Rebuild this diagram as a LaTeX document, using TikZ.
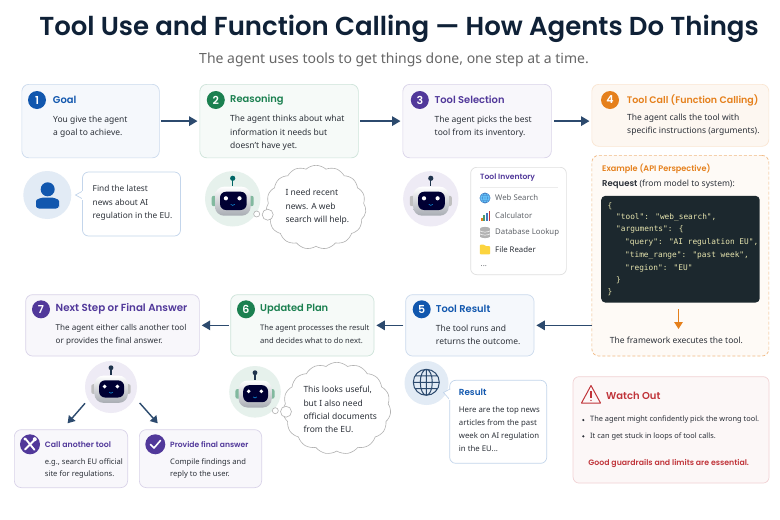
\documentclass[tikz,border=0pt]{standalone}
\usepackage{fontspec}
\setmainfont{Noto Sans}[BoldFont={Poppins SemiBold}]
\newfontfamily\monof{DejaVu Sans Mono}
\usetikzlibrary{arrows.meta,shapes.symbols,shapes.geometric,calc}
\definecolor{navy}{HTML}{2C4A6E}
\definecolor{inkc}{HTML}{2B3038}
\definecolor{blueA}{HTML}{1157AE}
\definecolor{greenA}{HTML}{1B8050}
\definecolor{purpA}{HTML}{51389A}
\definecolor{orangeA}{HTML}{E5801C}
\definecolor{redA}{HTML}{C0343A}
\definecolor{silverA}{HTML}{A8ACB3}
\definecolor{codetext}{HTML}{E6E4AE}
\definecolor{codebg}{HTML}{1C282E}
\definecolor{titlec}{HTML}{0F2137}
\tikzset{
  x=1pt,y=-1pt,
  card/.style={draw=#1!22!white,fill=#1!4!white,rounded corners=7pt,line width=.7pt,anchor=north west,inner sep=0pt},
  numdisc/.style={circle,fill=#1,text=white,minimum size=18pt,inner sep=0pt,font=\fontsize{11}{12}\selectfont\bfseries},
  head/.style={anchor=west,inner sep=0pt,text=#1,font=\fontsize{9.9}{12}\selectfont\bfseries},
  body/.style={anchor=west,inner sep=0pt,align=left,text=inkc,font=\fontsize{8.5}{13.3}\selectfont},
  flowarrow/.style={draw=navy,line width=1.6pt,-{Triangle[length=8.5pt,width=9.5pt]}},
  thought/.style={cloud,cloud puffs=15,cloud puff arc=85,aspect=1.35,draw=gray!60,fill=white,line width=.6pt,inner sep=0pt},
  bubble/.style={circle,draw=gray!60,fill=white,line width=.6pt,inner sep=0pt},
  codeline/.style={anchor=west,inner sep=0pt,text=codetext,font=\fontsize{7.8}{10}\selectfont\monof},
  toolrow/.style={anchor=west,inner sep=0pt,text=inkc!75!white,font=\fontsize{7.8}{10}\selectfont},
}
% robot with a coloured disc behind it: name, x, y, radius, disc, ears, antenna
\newcommand\robotface[7]{%
  \node[circle,fill=#5,minimum size=#4*2pt,inner sep=0pt] (#1) at (#2,#3) {};
  \begin{scope}[shift={(#2,#3)},scale=#4/27.7]
    \fill[#6,rounded corners=2pt] (-21,-3) rectangle (-15,7.4);
    \fill[#6,rounded corners=2pt] (15,-3) rectangle (21,7.4);
    \draw[#7,line width=1.1pt] (0,-13) -- (0,-20);
    \fill[#7] (0,-20.5) circle (2.6);
    \shade[top color=white,bottom color=silverA,rounded corners=9pt] (-17.7,-12.1) rectangle (18,16.9);
    \fill[fill=black!80!blue,rounded corners=6pt] (-12.7,-7.1) rectangle (14,11.2);
    \fill[white] (-6.8,-0.5) circle (2.1) (6.8,-0.5) circle (2.1);
    \draw[cyan!70!blue,line width=.6pt] (-2,5.5) .. controls (-1,7) and (1,7) .. (2,5.5);
  \end{scope}}
\begin{document}
\begin{tikzpicture}
\useasboundingbox (0,0) rectangle (780,520);
\fill[white] (0,0) rectangle (780,520);

% heading
\node[inner sep=0pt,text=titlec,font=\fontsize{26}{30}\selectfont\bfseries] (title) at (399,29) {Tool Use and Function Calling — How Agents Do Things};
\node[inner sep=0pt,text=black!60!white,font=\fontsize{14}{15}\selectfont] (subtitle) at (394,60) {The agent uses tools to get things done, one step at a time.};

% step cards, top row
\node[card=blueA,minimum width=137.5pt,minimum height=73.5pt] (c1) at (21.5,84) {};
\node[card=greenA,minimum width=158.5pt,minimum height=73.5pt] (c2) at (199.5,84) {};
\node[card=purpA,minimum width=148.5pt,minimum height=73.5pt] (c3) at (402.5,84) {};
\node[card=orangeA,minimum width=177pt,minimum height=62pt,fill=orangeA!6!white,draw=orangeA!20!white] (c4) at (591.5,84) {};
\node[numdisc=blueA] (n1) at (37,100) {1};
\node[numdisc=greenA] (n2) at (215.8,100) {2};
\node[numdisc=purpA] (n3) at (419.8,100) {3};
\node[numdisc=orangeA] (n4) at (610,100) {4};
\node[head=blueA] (h1) at (52.7,100) {Goal};
\node[head=greenA] (h2) at (230,100) {Reasoning};
\node[head=purpA] (h3) at (434.5,100) {Tool Selection};
\node[head=orangeA,font=\fontsize{9.5}{12}\selectfont\bfseries] (h4) at (626.7,100) {Tool Call (Function Calling)};
\node[body] (b1) at (53,126.5) {You give the agent\\a goal to achieve.};
\node[body] (b2) at (230,133) {The agent thinks about what\\information it needs but\\doesn't have yet.};
\node[body] (b3) at (434.5,126.5) {The agent picks the best\\tool from its inventory.};
\node[body] (b4) at (627,125) {The agent calls the tool with\\specific instructions (arguments).};
\draw[flowarrow,shorten <=1.5pt,shorten >=2pt] (c1.east) -- (c2.west);
\draw[flowarrow,shorten <=1.5pt,shorten >=2pt] (c2.east) -- (c3.west);
\draw[flowarrow,shorten <=2.5pt,shorten >=2pt] (c3.east) -- (c3.east -| c4.west);

% user and request
\node[circle,fill=blueA!12!white,minimum size=48pt,inner sep=0pt] (user) at (47.3,195) {};
\fill[blueA] (47.7,189.3) circle (7);
\fill[blueA,rounded corners=3pt] (36,208.5) -- (36,204) .. controls (36,199) and (42,197.5) .. (47.7,197.5) .. controls (53,197.5) and (59,199) .. (59,204) -- (59,208.5) -- cycle;
\draw[draw=blueA!25!white,fill=white,line width=.7pt,rounded corners=6pt] (82.5,172) rectangle (180.5,236);
\draw[draw=blueA!25!white,fill=white,line width=.7pt] (82.8,191) -- (75.5,195) -- (82.8,199);
\fill[white] (82,190.5) rectangle (83.6,199.5);
\node[body,font=\fontsize{8.3}{13.5}\selectfont] (say1) at (92.5,203) {Find the latest\\news about AI\\regulation in the EU.};

% thinking robot
\robotface{r2}{232.7}{198.8}{27.7}{greenA!11!white}{greenA!55!white}{teal!80!black}
\node[thought,minimum width=100pt,minimum height=84pt] (cl2) at (316,207.3) {};
\node[bubble,minimum size=6pt] (d2a) at (256.7,214) {};
\node[bubble,minimum size=11pt] (d2b) at (267.7,214.7) {};
\node[body] (say2) at (285.3,207) {I need recent\\news. A web\\search will help.};

% selecting robot and its inventory
\robotface{r3}{430.8}{198.8}{27.7}{purpA!10!white}{gray!50!white}{navy!70!black}
\node[anchor=north west,draw=gray!25!white,fill=white,rounded corners=6pt,line width=.7pt,minimum width=95.7pt,minimum height=107.3pt,inner sep=0pt] (inv) at (470.3,167) {};
\node[head=purpA,font=\fontsize{7.6}{10}\selectfont\bfseries] (invt) at (480,178) {Tool Inventory};
\draw[gray!15!white,line width=.6pt] (480,187) -- (558,187);
\begin{scope}[shift={(485,198)}]
  \fill[blue!35!cyan!60!white] (0,0) circle (5.2);
  \draw[blueA!80!white,line width=.4pt] (0,0) circle (5.2) (-5.2,0) -- (5.2,0) (0,-5.2) -- (0,5.2) (0,0) ellipse (2.4 and 5.2) (-4.6,-2.5) -- (4.6,-2.5) (-4.6,2.5) -- (4.6,2.5);
\end{scope}
\fill[orangeA] (480.5,217.5) rectangle (482.5,220.5);
\fill[greenA!80!white] (483.2,214.5) rectangle (485.2,220.5);
\fill[blueA!80!white] (486,212.5) rectangle (488,220.5);
\fill[redA] (488.8,210.5) rectangle (490,220.5);
\begin{scope}[shift={(485,232.5)}]
  \fill[gray!60!white] (-5,-4) rectangle (5,4);
  \fill[gray!60!white] (0,-4) ellipse (5 and 1.6) (0,4) ellipse (5 and 1.6);
  \draw[white,line width=.5pt] (-5,-1.6) .. controls (-2,0) and (2,0) .. (5,-1.6) (-5,1.4) .. controls (-2,3) and (2,3) .. (5,1.4);
\end{scope}
\fill[yellow!60!orange!75!white,rounded corners=1pt] (479.8,244.5) -- (484,244.5) -- (485.2,246) -- (490.2,246) -- (490.2,254.3) -- (479.8,254.3) -- cycle;
\node[toolrow] (t1) at (495,198) {Web Search};
\node[toolrow] (t2) at (495,215.3) {Calculator};
\node[toolrow] (t3) at (495,232.5) {Database Lookup};
\node[toolrow,text=inkc] (t4) at (495,249.5) {File Reader};
\node[toolrow] (t5) at (480.5,266) {...};

% API example panel
\node[anchor=north west,draw=orangeA!55!white,fill=orangeA!4!white,densely dashed,rounded corners=7pt,line width=.7pt,minimum width=177pt,minimum height=200.7pt,inner sep=0pt] (ex) at (591.5,155) {};
\node[head=orangeA,font=\fontsize{8.1}{10}\selectfont\bfseries] (ext) at (602,168.5) {Example (API Perspective)};
\node[body] (exr) at (602,184) {\textbf{Request} (from model to system):};
\node[anchor=north west,fill=codebg,rounded corners=4pt,minimum width=158.5pt,minimum height=106.6pt,inner sep=0pt] (code) at (601,195.7) {};
\node[codeline] (l1) at (607.3,205.7) {\{};
\node[codeline] (l2) at (616,217) {"tool": "web\_search",};
\node[codeline] (l3) at (616,229.7) {"arguments": \{};
\node[codeline] (l4) at (625,242.3) {"query": "AI regulation EU",};
\node[codeline] (l5) at (625,255.3) {"time\_range": "past week",};
\node[codeline] (l6) at (625,268) {"region": "EU"};
\node[codeline] (l7) at (616,280) {\}};
\node[codeline] (l8) at (607.3,291.7) {\}};
\node[body,anchor=center] (exf) at (676.5,340.5) {The framework executes the tool.};
\draw[draw=orangeA,line width=1.3pt,-{Triangle[length=7pt,width=8.5pt]}] (code.south -| exf.north) ++(2,6.5) coordinate (exs) -- (exs |- 0,329);

% step cards, lower row
\node[card=blueA,minimum width=128.4pt,minimum height=61.4pt] (c5) at (405.3,294.3) {};
\node[card=greenA,minimum width=143.4pt,minimum height=61.4pt] (c6) at (230.3,294.3) {};
\node[card=purpA,minimum width=173.7pt,minimum height=61.4pt] (c7) at (25.3,294.3) {};
\node[numdisc=blueA] (n5) at (421.7,309.3) {5};
\node[numdisc=greenA] (n6) at (246,309.3) {6};
\node[numdisc=purpA] (n7) at (41,309.3) {7};
\node[head=blueA] (h5) at (435.7,309.3) {Tool Result};
\node[head=greenA] (h6) at (260,309.3) {Updated Plan};
\node[head=purpA,font=\fontsize{10.3}{12}\selectfont\bfseries] (h7) at (55.5,309.3) {Next Step or Final Answer};
\node[body] (b5) at (435.7,335) {The tool runs and\\returns the outcome.};
\node[body,font=\fontsize{7.6}{13}\selectfont] (b6) at (260,334.5) {The agent processes the result\\and decides what to do next.};
\node[body,font=\fontsize{8.1}{13.3}\selectfont] (b7) at (55.5,335) {The agent either calls another tool\\or provides the final answer.};
\draw[flowarrow,shorten >=2pt] (ex.west |- c5.east) -- (c5.east);
\draw[flowarrow,shorten <=2pt,shorten >=2pt] (c5.west) -- (c6.east);
\draw[flowarrow,shorten <=1.5pt,shorten >=2pt] (c6.west) -- (c7.east);

% tool output
\node[circle,fill=blueA!12!white,minimum size=44pt,inner sep=0pt] (gl) at (426.5,383) {};
\begin{scope}[shift={(426.3,382.3)}]
  \draw[navy,line width=1pt] (0,0) circle (13) (0,-13) -- (0,13) (0,0) ellipse (6 and 13) (-13,0) -- (13,0) (-11.3,-6.4) -- (11.3,-6.4) (-11.3,6.4) -- (11.3,6.4);
\end{scope}
\draw[draw=blueA!25!white,fill=white,line width=.7pt,rounded corners=6pt] (449.7,380.3) rectangle (546.7,463.3);
\draw[draw=blueA!25!white,fill=white,line width=.7pt] (450,389) -- (443.5,392.5) -- (450,400);
\fill[white] (449.2,389.5) rectangle (451,399.5);
\node[head=blueA,font=\fontsize{8.8}{10}\selectfont\bfseries] (rt) at (458.7,392.7) {Result};
\node[body,font=\fontsize{7.8}{13}\selectfont] (rb) at (458.7,428.7) {Here are the top news\\articles from the past\\week on AI regulation\\in the EU...};

% replanning robot
\robotface{r6}{255}{391.8}{25.8}{greenA!11!white}{greenA!55!white}{navy!70!black}
\node[thought,minimum width=108pt,minimum height=92pt] (cl6) at (336.8,408.3) {};
\node[bubble,minimum size=6pt] (d6a) at (275.3,410.7) {};
\node[bubble,minimum size=11pt] (d6b) at (286,411.7) {};
\node[body] (say6) at (303.3,409.7) {This looks useful,\\but I also need\\official documents\\from the EU.};

% the two possible next moves
\robotface{r7}{111}{387}{26}{purpA!10!white}{gray!50!white}{navy!70!black}
\node[card=purpA,minimum width=113.3pt,minimum height=58pt] (o1) at (14,429.3) {};
\node[card=purpA,minimum width=122.3pt,minimum height=58pt] (o2) at (139,429.3) {};
\draw[draw=navy,line width=1.4pt,-{Triangle[length=7pt,width=8.5pt]}] ($(r7.center)+(-26,16.3)$) -- ($(o1.north)+(-3.4,-6)$);
\draw[draw=navy,line width=1.4pt,-{Triangle[length=7pt,width=8.5pt]}] ($(r7.center)+(28.7,16)$) -- ($(o2.north)+(-42.8,-6)$);
\node[circle,fill=purpA,minimum size=20pt,inner sep=0pt] (i1) at (30,444.3) {};
\node[circle,fill=purpA,minimum size=20pt,inner sep=0pt] (i2) at (155.3,444.3) {};
\draw[white,line width=1.8pt,line cap=round] (25.5,438.8) -- (34.5,449.8) (35,439.5) -- (25,449.5);
\fill[white] (34.8,439.2) circle (2) (25,439) circle (1.6);
\draw[white,line width=1.6pt,line cap=round,line join=round] (150.5,444.5) -- (154,448) -- (160.5,440.5);
\node[head=purpA,font=\fontsize{7.8}{10}\selectfont\bfseries] (oh1) at (44.7,444.3) {Call another tool};
\node[head=purpA,font=\fontsize{7.6}{10}\selectfont\bfseries] (oh2) at (170,444.3) {Provide final answer};
\node[body,font=\fontsize{7.6}{12.5}\selectfont] (ob1) at (44.7,468.3) {e.g., search EU official\\site for regulations.};
\node[body,font=\fontsize{7.6}{12.5}\selectfont] (ob2) at (170,468.3) {Compile findings and\\reply to the user.};

% cautions
\node[anchor=north west,draw=redA!22!white,fill=redA!4!white,rounded corners=6pt,line width=.7pt,minimum width=196pt,minimum height=106.4pt,inner sep=0pt] (wo) at (572.7,376.3) {};
\draw[redA,line width=1pt,line join=round] (591,385.5) -- (600.5,403) -- (581.5,403) -- cycle;
\draw[redA,line width=1.3pt] (591,391) -- (591,397.5);
\fill[redA] (591,400.3) circle (.8);
\node[head=redA,font=\fontsize{10}{12}\selectfont\bfseries] (wot) at (606,395.7) {Watch Out};
\fill[inkc] (583.3,420) circle (1.2) (583.3,436.3) circle (1.2);
\node[body,font=\fontsize{7.4}{10}\selectfont] (w1) at (590,420) {The agent might confidently pick the wrong tool.};
\node[body,font=\fontsize{7.4}{10}\selectfont] (w2) at (590,436.3) {It can get stuck in loops of tool calls.};
\node[inner sep=0pt,text=redA,font=\fontsize{7.8}{10}\selectfont\bfseries] (w3) at (668.7,463.5) {Good guardrails and limits are essential.};
\end{tikzpicture}
\end{document}
